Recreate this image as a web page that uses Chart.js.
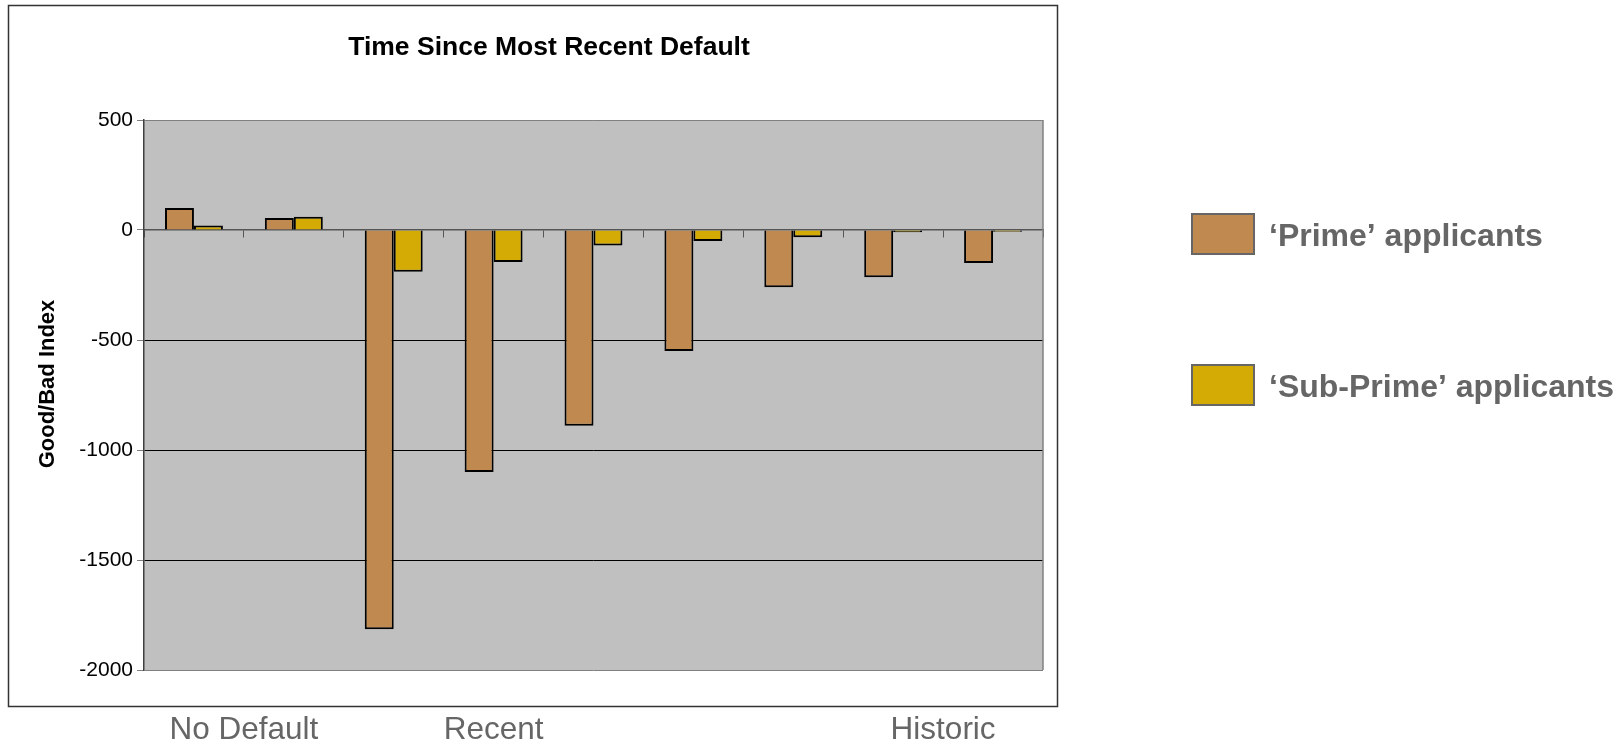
<!DOCTYPE html>
<html>
<head>
<meta charset="utf-8">
<title>Time Since Most Recent Default</title>
<script src="https://cdn.jsdelivr.net/npm/chart.js@4.4.1/dist/chart.umd.min.js"></script>
<style>
  html, body { margin: 0; padding: 0; background: #fff; }
  #wrap { width: 1623px; height: 742px; }
</style>
</head>
<body>
<div id="wrap"><canvas id="chart" width="1623" height="742"></canvas></div>
<script>
// Data
const categories = ['1', '2', '3', '4', '5', '6', '7', '8', '9'];
const primeValues = [100, 55, -1815, -1100, -890, -550, -260, -215, -150];
const subPrimeValues = [20, 60, -190, -145, -70, -50, -33, -10, -8];
const seriesNames = ['\u2018Prime\u2019 applicants', '\u2018Sub-Prime\u2019 applicants'];
const yTicks = [500, 0, -500, -1000, -1500, -2000];
// groups of categories named under the frame: [label, first index, last index]
const bandLabels = [['No Default', 0, 1], ['Recent', 3, 3], ['Historic', 7, 8]];

const FONT = "'Liberation Sans', Arial, sans-serif";

// plot background, frame, titles, band labels and legend
const decor = {
    id: 'decor',
    beforeDraw(chart) {
        const { ctx, chartArea: a } = chart;
        ctx.save();
        ctx.fillStyle = '#c0c0c0';
        ctx.fillRect(a.left, a.top, a.right - a.left, a.bottom - a.top);
        ctx.restore();
    },
    beforeDatasetsDraw(chart) {
        const { ctx, chartArea: a } = chart;
        ctx.save();
        ctx.strokeStyle = '#808080';
        ctx.lineWidth = 1.5;
        ctx.beginPath();
        ctx.moveTo(a.right, a.top);
        ctx.lineTo(a.right, a.bottom);
        ctx.stroke();
        ctx.restore();
    },
    afterDraw(chart) {
        const { ctx } = chart;
        const x = chart.scales.x;
        ctx.save();

        // outer frame
        ctx.strokeStyle = '#333';
        ctx.lineWidth = 1.5;
        ctx.strokeRect(8.5, 5.5, 1049, 701);

        // chart title
        ctx.fillStyle = '#000';
        ctx.font = 'bold 26.5px ' + FONT;
        ctx.textAlign = 'center';
        ctx.textBaseline = 'alphabetic';
        ctx.fillText('Time Since Most Recent Default', 549, 55);

        // y axis title
        ctx.save();
        ctx.translate(54, 384);
        ctx.rotate(-Math.PI / 2);
        ctx.font = 'bold 22px ' + FONT;
        ctx.fillText('Good/Bad Index', 0, 0);
        ctx.restore();

        // band labels under the frame
        ctx.fillStyle = '#666';
        ctx.font = '31.5px ' + FONT;
        bandLabels.forEach(([text, i0, i1]) => {
            const cx = (x.getPixelForValue(i0) + x.getPixelForValue(i1)) / 2;
            ctx.fillText(text, cx, 739);
        });

        // legend
        ctx.textAlign = 'left';
        ctx.font = 'bold 32px ' + FONT;
        chart.data.datasets.forEach((ds, i) => {
            const top = 214 + i * 151;
            ctx.fillStyle = ds.backgroundColor;
            ctx.fillRect(1192, top, 62, 40);
            ctx.strokeStyle = '#666';
            ctx.lineWidth = 2;
            ctx.strokeRect(1192, top, 62, 40);
            ctx.fillStyle = '#666';
            ctx.fillText(ds.label, 1269, top + 32);
        });
        ctx.restore();
    }
};

new Chart(document.getElementById('chart'), {
    type: 'bar',
    data: {
        labels: categories,
        datasets: [{
            label: seriesNames[0],
            data: primeValues,
            backgroundColor: '#c0894f',
            borderColor: '#000',
            borderWidth: 2
        }, {
            label: seriesNames[1],
            data: subPrimeValues,
            backgroundColor: '#d3ab04',
            borderColor: '#000',
            borderWidth: 2
        }]
    },
    options: {
        responsive: false,
        animation: false,
        categoryPercentage: 0.58,
        barPercentage: 1.0,
        layout: { padding: { left: 0, top: 120, right: 580, bottom: 72 } },
        plugins: {
            legend: { display: false },
            title: { display: false },
            tooltip: { enabled: false }
        },
        scales: {
            x: {
                position: { y: 0 },
                ticks: { display: false },
                grid: {
                    drawOnChartArea: false,
                    drawTicks: true,
                    tickLength: 7,
                    tickColor: '#555',
                    offset: true
                },
                border: { display: true, color: '#555', width: 1.5 }
            },
            y: {
                min: -2000,
                max: 500,
                afterFit(scale) { scale.width = 144; },
                afterBuildTicks(scale) { scale.ticks = yTicks.map(v => ({ value: v })); },
                ticks: {
                    color: '#000',
                    padding: 4,
                    font: { family: FONT, size: 21 },
                    callback: v => String(v)
                },
                grid: {
                    color: ctx => {
                        const v = ctx.tick && ctx.tick.value;
                        if (v === 500 || v === -2000) return '#808080';
                        if (v === 0) return '#555';
                        return '#000';
                    },
                    lineWidth: 1,
                    tickLength: 7,
                    tickColor: '#808080'
                },
                border: { display: true, color: '#404040', width: 1.5 }
            }
        }
    },
    plugins: [decor]
});
</script>
</body>
</html>
